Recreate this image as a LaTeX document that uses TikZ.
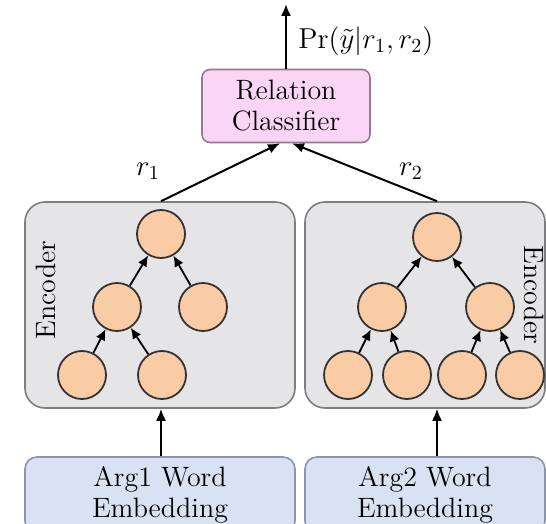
\documentclass[tikz,border=0pt]{standalone}
\usepackage{amsmath}
\usetikzlibrary{arrows.meta,positioning,calc}
\definecolor{encgray}{RGB}{229,229,231}
\definecolor{encline}{RGB}{125,125,128}
\definecolor{peach}{RGB}{250,204,166}
\definecolor{clspink}{RGB}{249,213,246}
\definecolor{clsline}{RGB}{150,120,145}
\definecolor{embblue}{RGB}{217,226,242}
\definecolor{embline}{RGB}{140,148,168}

\begin{document}
\begin{tikzpicture}[
  x=0.5pt, y=-0.5pt, >=Latex,
  font=\rmfamily\fontsize{14}{15.5}\selectfont,
  encbox/.style={draw=encline, line width=0.8pt, rounded corners=10pt, fill=encgray, minimum height=103pt},
  unit/.style={circle, draw=black!80, line width=0.9pt, fill=peach, minimum size=24pt, inner sep=0pt},
  clsbox/.style={draw=clsline, line width=0.8pt, rounded corners=4pt, fill=clspink, align=center, minimum width=84pt, minimum height=36.5pt, inner sep=1pt},
  embbox/.style={draw=embline, line width=0.8pt, rounded corners=6pt, fill=embblue, align=center, minimum height=38pt, inner sep=1pt},
  arr/.style={->, line width=1pt, >={Latex[length=6pt,width=5pt]}},
  tarr/.style={->, line width=0.9pt, >={Latex[length=5.5pt,width=5pt]}}
]
\clip (0,0) rectangle (546,524);
\useasboundingbox (0,0) rectangle (546,524);
% encoder panels
\node[encbox, minimum width=135pt] (encL) at (160,305) {};
\node[encbox, minimum width=120pt] (encR) at (425,305) {};
\node[rotate=90] (encLtxt) at (46,290) {Encoder};
\node[rotate=-90, inner sep=1pt] (encRtxt) at (534,295) {Encoder};
% left tree
\node[unit] (la) at (161,234) {};
\node[unit] (lb) at (117,307) {};
\node[unit] (lc) at (203,307) {};
\node[unit] (ld) at (82,375) {};
\node[unit] (le) at (162,375) {};
\draw[tarr] (lb) -- (la);
\draw[tarr] (lc) -- (la);
\draw[tarr] (ld) -- (lb);
\draw[tarr] (le) -- (lb);
% right tree
\node[unit] (ra) at (437,237) {};
\node[unit] (rb) at (382,307) {};
\node[unit] (rc) at (490,307) {};
\node[unit] (rd) at (348,375) {};
\node[unit] (re) at (407,375) {};
\node[unit] (rf) at (462,375) {};
\node[unit] (rg) at (520,375) {};
\draw[tarr] (rb) -- (ra);
\draw[tarr] (rc) -- (ra);
\draw[tarr] (rd) -- (rb);
\draw[tarr] (re) -- (rb);
\draw[tarr] (rf) -- (rc);
\draw[tarr] (rg) -- (rc);
% classifier
\node[clsbox] (cls) at (286,106) {Relation\\Classifier};
\coordinate (out) at (286,4);
\draw[arr] (cls.north) -- (out);
\node[anchor=west, inner sep=0pt] (prob) at (298,41) {$\Pr(\tilde{y}|r_1,r_2)$};
\draw[arr] (encL.north -| la) -- ([xshift=-3pt]cls.south);
\draw[arr] (encR.north -| ra) -- ([xshift=3pt]cls.south);
\node (r1lab) at (148,171) {$r_1$};
\node (r2lab) at (411,171) {$r_2$};
% embeddings
\node[embbox, minimum width=135pt] (embL) at (160,495) {Arg1 Word\\Embedding};
\node[embbox, minimum width=120pt] (embR) at (425,495) {Arg2 Word\\Embedding};
\draw[arr] (embL.north -| la) -- (encL.south -| la);
\draw[arr] (embR.north -| ra) -- (encR.south -| ra);
\end{tikzpicture}
\end{document}
